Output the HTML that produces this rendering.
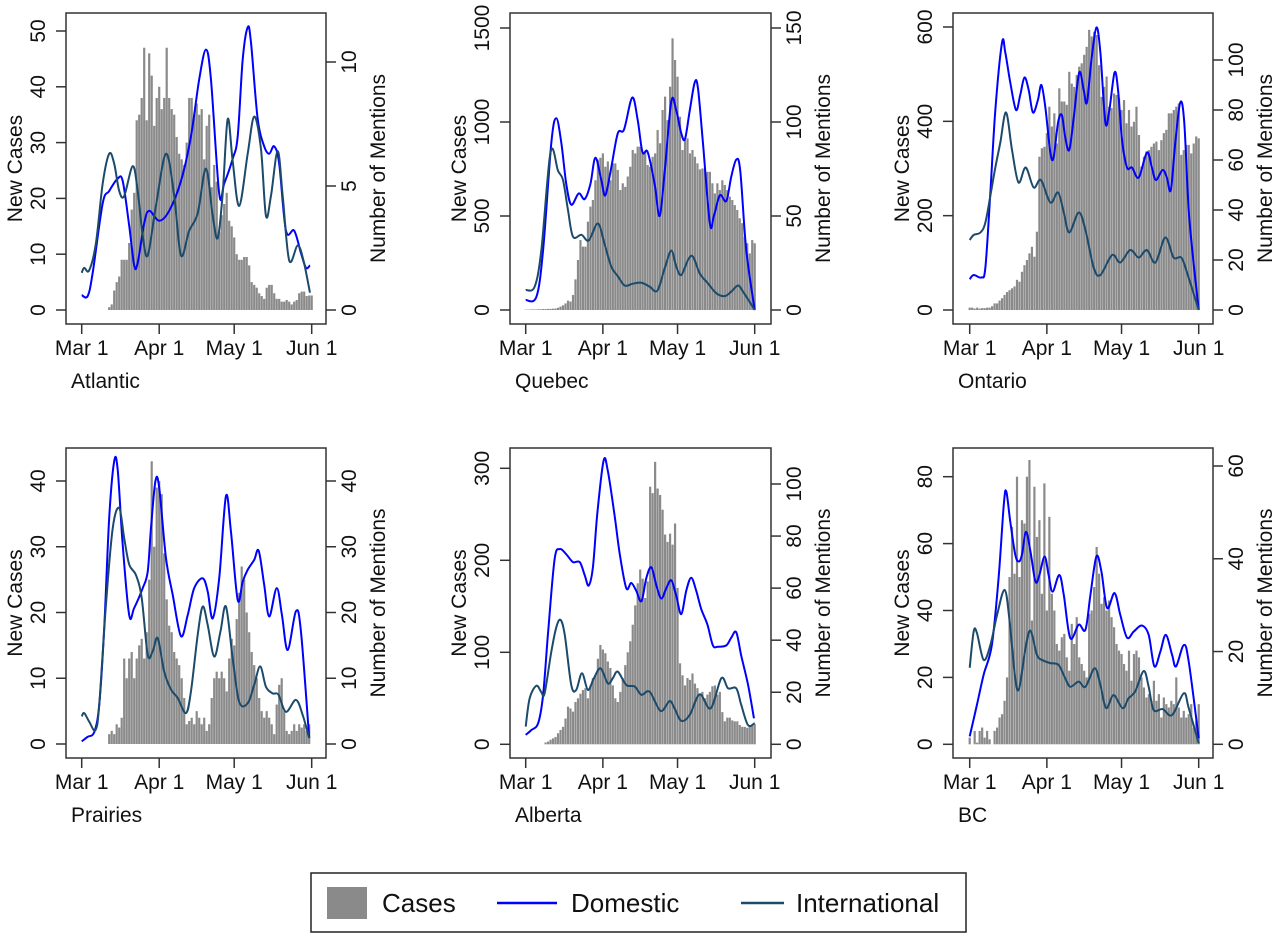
<!DOCTYPE html>
<html><head><meta charset="utf-8"><title>Cases and mentions by region</title>
<style>
html,body{margin:0;padding:0;background:#fff;}
svg{display:block;font-family:"Liberation Sans",Arial,sans-serif;}
</style></head>
<body>
<svg id="chart" width="1275" height="938" viewBox="0 0 1275 938" xmlns="http://www.w3.org/2000/svg"></svg>
<script>
// ---------- DATA (days since Mar 1; values) ----------
const xTickDays = [0, 31, 61, 92];
const xTickLabels = ["Mar 1", "Apr 1", "May 1", "Jun 1"];

// Atlantic
const atlTicksL = [0,10,20,30,40,50];
const atlTicksR = [0,5,10];
const atlCases = [0,0,0,0,0,0,0,0,0,0,0,0.5,1,3.5,5,6,9,9,9,12,18,21,34,35,38,47,34,46,42,33,38,40,36,38,47,38,36,35,31,28,27,26,30,38,38,35,37,35,36,27,33,35,22,26,23,14,17,19,21,16,15,13,10,9,9,9.5,9.5,8,5,4.5,4,3,2.5,2,4,4.5,4.5,3,2,2,1.5,1.5,1.8,1.5,1,1.5,1.8,3,3.3,3.3,2.5,2.6,2.6];
const atlDomDays = [0,2.4,4.4,8.4,11,14.4,16.4,19,21,22.4,25,27,31,35,39.7,43.7,47,49.7,51.7,55,57,60.4,62.4,64.4,66.4,67.7,70.4,73,75,77,79,81.7,85,87.7,89.7,91.3];
const atlDomVals = [0.6,0.56,1.5,4.3,4.8,5.3,5.2,3.4,1.8,1.9,3.5,4.0,3.6,4.0,5.2,7.0,9.3,10.5,9.3,4.7,5.1,6.1,7.0,10.1,11.4,10.8,7.7,6.6,6.3,6.6,5.9,3.2,3.2,2.3,1.7,1.8];
const atlIntDays = [0,1,3,5.7,8.4,11,13,15,17,20.4,22.4,24.4,26.4,29.7,33.7,37,39.7,43,46.4,49.7,52.4,54.4,56.4,58.4,60.4,63,66.4,69,71.7,73.7,75.7,78.4,80.4,83,86.4,88.7,91.3];
const atlIntVals = [1.5,1.7,1.6,2.7,5.1,6.3,5.9,4.8,4.6,5.8,4.8,3.0,2.2,4.2,6.3,4.6,2.2,3.2,3.9,5.7,3.8,2.9,4.7,7.7,6.0,4.2,6.3,7.8,6.5,3.8,4.6,6.4,4.6,2.0,2.6,2.0,0.7];

// Quebec
const qcTicksL = [0,500,1000,1500];
const qcTicksR = [0,50,100,150];
const qcCases = [2,2,3,3,3,4,4,5,5,6,6,7,8,12,18,25,35,50,45,80,163,266,372,337,337,470,550,585,690,800,810,833,762,790,690,780,780,745,638,674,655,710,762,851,833,869,869,833,842,771,762,815,833,957,887,1064,1135,1010,1188,1445,1330,1241,1028,851,904,913,833,851,815,780,748,753,753,735,735,674,620,674,638,690,665,638,603,585,558,532,488,462,390,355,301,372,355];
const qcDomDays = [0,4.3,7,10.3,12.3,14.3,16.3,18.3,21.3,23.7,26,28,30.4,32,34.4,37,39.5,42.8,45,46.9,49,51.8,53.8,55.8,58.5,60.5,62.5,64,65.9,67.9,69.2,71.2,74,75.6,78,80.6,82.6,84.6,86.2,88.6,92];
const qcDomVals = [5.3,7,32,89,102,89,67,56,62,59,67,81,69,61,76,94,96,113,101,84,84,67,50,73,111,106,94,91,106,121,118,89,46,50,61,58,71,80,74,32,0];
const qcIntDays = [0,3.6,6.3,10,13,15,17,19,22.4,25.3,29,31.7,34.4,37,39.8,43,46.5,49.8,52.9,55.8,58.5,60.5,62.5,65.2,67.2,69.9,73.2,76.6,80,82.6,85.3,87.3,92];
const qcIntVals = [10.6,12.4,32,84,74,69,53,39,40,37,46,35,23,18,13,14,14.5,12.4,10.3,22,31.6,23,18.6,26.6,28.4,19.5,14.2,8.9,7.4,9.8,13,9.8,0];

// Ontario
const onTicksL = [0,200,400,600];
const onTicksR = [0,20,40,60,80,100];
const onCases = [5,5,3,5,3,4,4,5,5,8,14,14,20,25,32,38,42,46,50,64,60,81,95,106,120,134,113,166,325,343,346,375,431,389,417,353,470,442,442,435,505,480,473,498,516,523,541,558,594,580,590,583,519,452,473,495,431,428,459,456,449,424,445,396,424,389,399,431,371,304,325,336,339,346,353,357,339,360,375,382,417,417,424,431,438,329,339,350,350,332,353,368,364];
const onDomDays = [0,1.6,4.7,6.3,8.3,10.3,13,14.3,16.3,18.6,20.3,22,23.7,25.4,27.4,28.8,30.4,32.4,33.7,35.5,37,38.4,40,41.8,44,45.8,47.1,48.9,50.9,52.5,54.5,56.1,58.2,59.6,61.2,63.2,65.2,67.9,71.2,73.2,74.8,77.5,79.2,80.8,82.6,84.6,86.2,88.2,92];
const onDomVals = [12.3,14,13,17,47,80,107,103,91,80,86,93,88,79,84,90,81,63,61,75,78,69,64,77,95,88,83,100,113,103,75,80,95,88,68,57,57,53,63,57,52,56,53,48,67,83,75,37,0];
const onIntDays = [0,1.6,4.3,6.3,8.7,10.3,12.3,14.6,17,19.6,22.5,25.7,28.6,32.4,35.5,37.8,40,43.8,46.5,49.8,52.5,57.2,60.5,64.5,67.9,71.2,74.6,78.6,81.9,85,87.3,92];
const onIntVals = [28,30,31,35,48,57,67,79,64,51,57,49,52,43,47,39,31,39,32,17,14,22,19,24,21,24,19,29,21,21,15,0];

// Prairies
const prTicksL = [0,10,20,30,40];
const prTicksR = [0,10,20,30,40];
const prCases = [0,0,0,0,0,0,0,0,0,0,0,1.5,2,1.5,3,2.5,4,13,10,13,14,10,13,15,16,13,17,25,43,30,39,40,38,29,22,18,17,14,13,12,10,7,3,3.5,4,3,5,4,3,4,2,3,7,10,11,10,11,10,8,13,16,15,19,23,27,25,20,17,14,12,10,7,5,4,5,4,3,1.5,6,9,10,5,2,1.5,2,3,2,3,2.5,3,2,3,0];
const prDomDays = [0,2.4,5,7,9,11,13,14.4,16.4,19,21,24.4,26.4,27.7,29.5,31,33.7,36.4,39.7,42.4,45,48.4,50.4,52.4,55,57.7,59.7,62.4,64.4,66.4,69,70.8,73,75,78,80.1,82.4,85.7,87.7,91];
const prDomVals = [0.4,1.1,1.8,5.9,17.6,34.4,43,41.7,30.3,19.6,20.7,23.7,26.2,32.8,40,39,28.3,22.7,16.4,19.6,23.7,25.2,23.2,19.1,25.2,37.7,32.3,21.9,24.7,26.5,28,29.4,24.2,19.4,23.7,19.6,14.3,20.2,17.1,0.9];
const prIntDays = [0,1,3,5.5,7,9.7,12.4,15,17,19,21.7,24,26.4,28.4,30.4,33,35.7,38.4,41.7,43.7,46.4,48.4,50.4,53,55.5,57.7,60.4,63,66.4,69,71.4,73.7,76.4,78.7,81.7,85.7,88.4,91];
const prIntVals = [4.2,4.7,3.4,2.1,5.9,21.2,32.8,35.9,31.3,27.3,25.7,22.2,13.6,14.1,16.1,11,8.3,7,4.7,8,16.6,20.9,18.1,13.3,17.1,20.9,13,6.4,6.2,9,11.8,8.7,7.7,7.5,4.9,6.7,4.4,0.9];

// Alberta
const abTicksL = [0,100,200,300];
const abTicksR = [0,20,40,60,80,100];
const abCases = [0,0,0,0,0,0,0,0,2,3,5,6.5,8,12,15.6,19,28,41,39,35.5,46,50,55,59,61,50,64,72,75,93,108,103,99,90,83,64,50,46,57,72,86,100,112,130,151,175,190,180,159,177,280,273,307,278,271,255,228,220,229,217,240,170,88,75,64,72,70,77,66,61,55,57,50,54,57,63,64,54,57,35,25,29,29,26,25,25,21,19,19,18,20,20,22];
const abDomDays = [0,2.3,5,7,9,11.6,13.7,16.3,19,21.7,23.7,25.3,27,28.8,31.3,33,35.7,37.8,40.4,42.4,44.4,46.5,48.5,50.5,52.5,54.5,56.5,58.5,60.5,62.5,64.5,66.5,68.5,70.5,73,75.2,77.2,80.6,82.6,84.6,86.6,89.3,91.7];
const abDomVals = [3.6,5.5,8.1,19,43,71,75,73,70,70,65,61,68,89,109,105,88,73,60,62,59,55,64,68,61,56,60,63,57,50,59,64,59,52,46,38,37.5,38,41,43,34,23,10];
const abIntDays = [0,1.6,4.3,6.3,7.6,10.3,12.3,14,15.7,18.3,20.3,22.6,25,27.4,30.1,33,35,37,40.4,43.8,46.5,49.8,54.2,57.8,59.8,62.5,65.9,69.9,74.3,78.6,81.3,84.6,86.6,89.3,92];
const abIntVals = [6.8,17.7,22.5,20,19.6,35.6,45,47.8,42,22.8,20.9,27.3,20.9,25.4,29.2,23.4,25.4,27.9,22.8,22.2,19,20.2,12.8,16.6,13.8,9,11.3,19.2,13.8,25.4,21.5,21.5,15.1,7.4,8.1];

// BC
const bcTicksL = [0,20,40,60,80];
const bcTicksR = [0,20,40,60];
const bcCases = [2,0,4,0.5,4,5,2,4,1.5,0,4,5,8,9,13,20,50,65,51,80,50,67,66,80,85,37,77,62,67,45,78,40,68,45,40,30,28,32,33,26,22,36,30,38,26,24,22,20,39,40,47,59,51,42,44,40,43,38,35,30,28,27,24,22,28,19,27,28,26,20,17,14,15,13,19,13,15,8,14,12,11,13,12,20,11,8,10,8,9,12,5,7,12];
const bcDomDays = [0,2.9,5.6,8.9,11.6,13.7,14.7,16.3,18.3,19.7,21,22.6,24.4,26.4,28,30.1,31.7,33.3,36,37.8,40.4,43.8,46.5,48.5,50.9,52.9,55.2,58.2,60.5,63.2,65.9,69.2,71.9,74.2,76.6,78.8,81.3,82.9,86,88,92];
const bcDomVals = [1.7,8.5,15,21.4,35.8,51.7,54.5,48,40.9,39.4,40.9,45.8,41.6,35.1,36.5,40.5,36.5,32.9,36.5,32.2,22.9,25.8,24.7,32.2,40.5,37.3,29.4,32.6,27.9,23,24.3,25.6,23.6,16.8,20,23.6,19.3,16.8,21.4,17.8,1.3];
const bcIntDays = [0,1.6,2.9,5.6,8.3,11,14,15.9,18.3,19.9,22.4,24.4,27,29,32.4,35.7,38.4,40.4,43.8,46.5,50.2,52.5,54.8,57.8,61.4,63.8,66.5,69.9,71.9,73.9,77.5,81.3,86,88,92];
const bcIntVals = [16.5,24.3,24,18.2,21.4,27.9,33.3,27.2,14.2,12.1,20.7,24.5,19.3,18.2,17.5,17.1,14.2,12.4,13.5,12.4,16.4,12.8,7.8,10.6,7.8,9.9,11.4,15.8,12.4,7.4,7.6,6.3,11,7.8,0.2];

// ---------- LAYOUT ----------
const NS = "http://www.w3.org/2000/svg";
const svg = document.getElementById('chart');
const CASE_COLOR = "#8a8a8a", DOM_COLOR = "#0000ff", INT_COLOR = "#1b4a6b";

function mk(tag, attrs, parent) {
  const el = document.createElementNS(NS, tag);
  for (const k in attrs) el.setAttribute(k, attrs[k]);
  (parent || svg).appendChild(el);
  return el;
}
function spline(pts) {
  let d = "M" + pts[0][0].toFixed(2) + "," + pts[0][1].toFixed(2);
  for (let i = 0; i < pts.length - 1; i++) {
    const p0 = pts[i - 1] || pts[i], p1 = pts[i], p2 = pts[i + 1], p3 = pts[i + 2] || p2;
    const c1x = p1[0] + (p2[0] - p0[0]) / 6, c1y = p1[1] + (p2[1] - p0[1]) / 6;
    const c2x = p2[0] - (p3[0] - p1[0]) / 6, c2y = p2[1] - (p3[1] - p1[1]) / 6;
    d += " C" + c1x.toFixed(2) + "," + c1y.toFixed(2) + " " + c2x.toFixed(2) + "," + c2y.toFixed(2) + " " + p2[0].toFixed(2) + "," + p2[1].toFixed(2);
  }
  return d;
}

const panels = [
  {name:"Atlantic", key:"atlantic", L:66, R:326, T:13, B:324, x0:81.7, x1:311.7, y0:310, lTop:50, lTopY:31, rTop:10, rTopY:62,
   tl:atlTicksL, tr:atlTicksR, cases:atlCases, dd:atlDomDays, dv:atlDomVals, id:atlIntDays, iv:atlIntVals},
  {name:"Quebec", key:"quebec", L:510, R:771, T:13, B:324, x0:525.7, x1:754.7, y0:310, lTop:1500, lTopY:28, rTop:150, rTopY:28,
   tl:qcTicksL, tr:qcTicksR, cases:qcCases, dd:qcDomDays, dv:qcDomVals, id:qcIntDays, iv:qcIntVals},
  {name:"Ontario", key:"ontario", L:953, R:1213, T:13, B:324, x0:969.7, x1:1198.7, y0:310, lTop:600, lTopY:27, rTop:100, rTopY:60,
   tl:onTicksL, tr:onTicksR, cases:onCases, dd:onDomDays, dv:onDomVals, id:onIntDays, iv:onIntVals},
  {name:"Prairies", key:"prairies", L:66, R:326, T:448, B:758, x0:81.7, x1:311.7, y0:744, lTop:40, lTopY:481, rTop:40, rTopY:481,
   tl:prTicksL, tr:prTicksR, cases:prCases, dd:prDomDays, dv:prDomVals, id:prIntDays, iv:prIntVals},
  {name:"Alberta", key:"alberta", L:510, R:771, T:448, B:758, x0:525.7, x1:754.7, y0:744.3, lTop:300, lTopY:468.3, rTop:100, rTopY:484,
   tl:abTicksL, tr:abTicksR, cases:abCases, dd:abDomDays, dv:abDomVals, id:abIntDays, iv:abIntVals},
  {name:"BC", key:"bc", L:953, R:1213, T:448, B:758, x0:969.7, x1:1198.7, y0:744.3, lTop:80, lTopY:476.7, rTop:60, rTopY:466,
   tl:bcTicksL, tr:bcTicksR, cases:bcCases, dd:bcDomDays, dv:bcDomVals, id:bcIntDays, iv:bcIntVals}
];

panels.forEach(p => {
  const g = mk('g', {});
  
  
  const xs = d => p.x0 + d * (p.x1 - p.x0) / 92;
  const yl = v => p.y0 - v * (p.y0 - p.lTopY) / p.lTop;
  const yr = v => p.y0 - v * (p.y0 - p.rTopY) / p.rTop;

  const bw = (p.x1 - p.x0) / 92;
  p.cases.forEach((v, d) => {
    if (v <= 0) return;
    const r = mk('rect', {x:(xs(d) - bw/2 + 0.15).toFixed(2), y:yl(v).toFixed(2), width:(bw - 0.3).toFixed(2), height:(p.y0 - yl(v)).toFixed(2), fill:CASE_COLOR}, g);
    
    
  });
  const dom = mk('path', {d:spline(p.dd.map((d,i)=>[xs(d), yr(p.dv[i])])), fill:"none", stroke:DOM_COLOR, 'stroke-width':2, 'stroke-linejoin':'round'}, g);
  
  
  const intl = mk('path', {d:spline(p.id.map((d,i)=>[xs(d), yr(p.iv[i])])), fill:"none", stroke:INT_COLOR, 'stroke-width':2, 'stroke-linejoin':'round'}, g);
  
  

  const fr = mk('rect', {x:p.L, y:p.T, width:p.R - p.L, height:p.B - p.T, fill:"none", stroke:"#333", 'stroke-width':1.5}, g);
  
  

  xTickDays.forEach((d, i) => {
    mk('line', {x1:xs(d), x2:xs(d), y1:p.B, y2:p.B + 10, stroke:"#333", 'stroke-width':1.5}, g);
    const t = mk('text', {x:xs(d), y:p.B + 31, 'text-anchor':'middle', 'font-size':21, fill:"#111"}, g);
    t.textContent = xTickLabels[i];
    
    
  });
  p.tl.forEach(v => {
    const y = yl(v);
    mk('line', {x1:p.L - 10, x2:p.L, y1:y, y2:y, stroke:"#333", 'stroke-width':1.5}, g);
    const t = mk('text', {x:0, y:0, transform:`translate(${p.L - 21},${y}) rotate(-90)`, 'text-anchor':'middle', 'font-size':21, fill:"#111"}, g);
    t.textContent = v;
    
    
  });
  p.tr.forEach(v => {
    const y = yr(v);
    mk('line', {x1:p.R, x2:p.R + 10, y1:y, y2:y, stroke:"#333", 'stroke-width':1.5}, g);
    const t = mk('text', {x:0, y:0, transform:`translate(${p.R + 30},${y}) rotate(-90)`, 'text-anchor':'middle', 'font-size':21, fill:"#111"}, g);
    t.textContent = v;
    
    
  });
  const mid = (p.T + p.B) / 2;
  const lt = mk('text', {x:0, y:0, transform:`translate(${p.L - 44},${mid}) rotate(-90)`, 'text-anchor':'middle', 'font-size':21, fill:"#111"}, g);
  lt.textContent = "New Cases";
  
  
  const rt = mk('text', {x:0, y:0, transform:`translate(${p.R + 59},${mid}) rotate(-90)`, 'text-anchor':'middle', 'font-size':21, fill:"#111"}, g);
  rt.textContent = "Number of Mentions";
  
  
  const pn = mk('text', {x:p.L + 5, y:p.B + 64, 'font-size':21, fill:"#111"}, g);
  pn.textContent = p.name;
  
  
});

// legend
const lg = mk('g', {});


mk('rect', {x:311, y:873, width:655, height:59, fill:"#fff", stroke:"#222", 'stroke-width':1.5}, lg);
const sw = mk('rect', {x:327, y:887, width:40, height:32, fill:CASE_COLOR}, lg);


const t1 = mk('text', {x:382, y:912, 'font-size':26, fill:"#111"}, lg);
t1.textContent = "Cases";


const l2 = mk('line', {x1:497, x2:557, y1:903, y2:903, stroke:DOM_COLOR, 'stroke-width':2.5}, lg);


const t2 = mk('text', {x:571, y:912, 'font-size':26, fill:"#111"}, lg);
t2.textContent = "Domestic";


const l3 = mk('line', {x1:741, x2:784, y1:903, y2:903, stroke:INT_COLOR, 'stroke-width':2.5}, lg);


const t3 = mk('text', {x:796, y:912, 'font-size':26, fill:"#111"}, lg);
t3.textContent = "International";


</script>
</body></html>
